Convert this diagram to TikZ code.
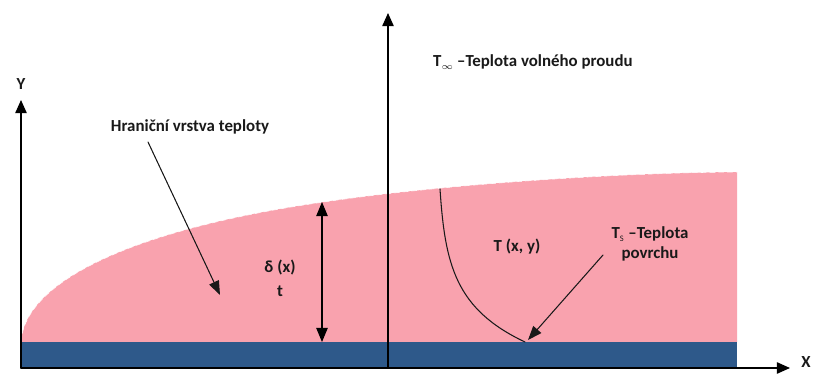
\documentclass[tikz,border=0pt]{standalone}
\usepackage{fontspec}
\setmainfont{Carlito}
\usetikzlibrary{arrows.meta,calc,positioning}
\definecolor{thermalpink}{RGB}{249,162,174}
\definecolor{thermalblue}{RGB}{46,89,138}
\definecolor{thermalink}{RGB}{25,25,25}
\begin{document}
\begin{tikzpicture}[line cap=round,line join=round,
  lbl/.style={font=\fontsize{9.6}{11}\selectfont\bfseries,text=thermalink,inner sep=1pt},
  axis/.style={-{Triangle[length=7.5pt,width=6.5pt]},thick,black},
  pointer/.style={-{Triangle[length=8pt,width=6pt]},semithick,thermalink}]
\useasboundingbox (0,0) rectangle (16.38,7.48);
% Vrstva kolem desky a samotná deska.
\fill[thermalpink] (.42,.64) .. controls (.5,1.9) and (2.8,2.9) .. (6.34,3.42)
 .. controls (8.5,3.75) and (12,4.02) .. (14.74,4.04)
 -- (14.74,.64) -- cycle;
\draw[white,densely dashed,line width=.3pt] (.42,.64) .. controls (.5,1.9) and (2.8,2.9) .. (6.34,3.42)
 .. controls (8.5,3.75) and (12,4.02) .. (14.74,4.04);
\fill[thermalblue] (.42,.12) rectangle (14.74,.64);
% Osy.
\coordinate (O) at (.42,.12);
\coordinate (ytip) at (.42,5.48);
\coordinate (xtip) at (15.8,.12);
\draw[axis] (O)--(ytip);
\draw[axis] (O)--(xtip);
\node[lbl] (ylab) at (.42,5.8) {Y};
\node[lbl] (xlab) at (16.12,.24) {X};
% Svislá šipka uprostřed.
\coordinate (mbase) at (7.76,.12);
\coordinate (mtip) at (7.76,7.22);
\draw[axis] (mbase)--(mtip);
\node[lbl,anchor=west] (tinf) at (8.62,6.24) {T$_{\scriptscriptstyle\infty}$\,–Teplota volného proudu};
% Tloušťka vrstvy.
\coordinate (dtop) at (6.44,3.44);
\coordinate (dbot) at (6.44,.64);
\draw[{Triangle[length=8pt,width=6.5pt]}-{Triangle[length=8pt,width=6.5pt]},semithick] (dbot)--(dtop);
\node[lbl] (delta) at (5.6,2.12) {δ (x)};
\node[lbl] (tsub) at (5.6,1.66) {t};
% Popis vrstvy.
\node[lbl] (layer) at (3.8,4.94) {Hraniční vrstva teploty};
\coordinate (layerpt) at (4.4,1.58);
\draw[pointer] (2.96,4.64)--(layerpt);
% Teplotní profil.
\coordinate (ptop) at (8.8,3.7);
\coordinate (pbot) at (10.5,.64);
\draw[thermalink,semithick] (ptop) .. controls (8.9,2.2) and (9.1,1.3) .. (pbot);
\node[lbl] (txy) at (10.34,2.54) {T (x, y)};
\node[lbl,align=center] (tsurf) at (13.0,2.6) {T$_\mathrm{\scriptscriptstyle S}$ –Teplota\\povrchu};
\coordinate (sfrom) at (12.06,2.38);
\draw[pointer] (sfrom)--(10.56,.68);
\end{tikzpicture}
\end{document}
